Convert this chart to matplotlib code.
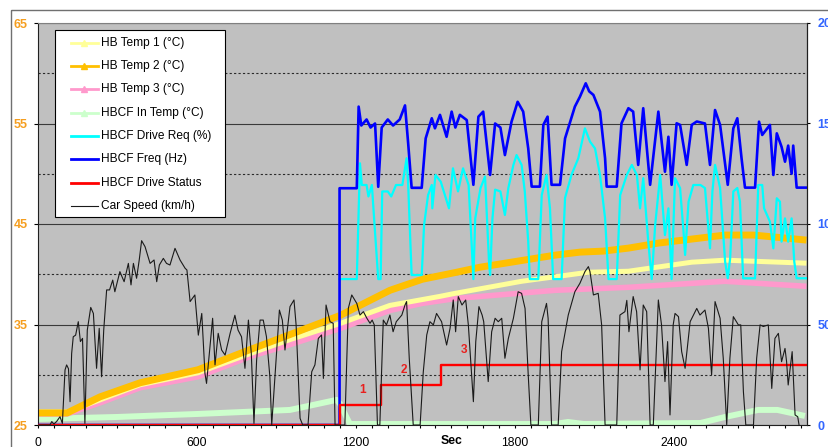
import matplotlib
matplotlib.use("Agg")
import matplotlib.pyplot as plt
from matplotlib.lines import Line2D
from matplotlib.patches import Rectangle
from matplotlib.transforms import Affine2D

plt.rcParams['font.family'] = ['Liberation Sans', 'DejaVu Sans']

# heat bank temperatures, left axis (°C)
temp1_t = [0, 110, 234, 385, 604, 800, 951, 1140, 1328, 1517, 1574, 1825, 2077, 2228, 2467, 2593, 2900]
temp1_v = [26.3, 26.3, 27.5, 29.0, 30.2, 32.1, 33.5, 35.1, 36.9, 37.8, 38.1, 39.3, 40.2, 40.3, 41.2, 41.4, 41.1]

temp2_t = [0, 110, 234, 385, 604, 800, 951, 1140, 1328, 1450, 1580, 1668, 1951, 2045, 2132, 2228, 2341, 2593, 2700, 2900]
temp2_v = [26.2, 26.2, 27.8, 29.2, 30.5, 32.5, 34.0, 35.9, 38.4, 39.5, 40.2, 40.7, 41.9, 42.2, 42.3, 42.6, 43.1, 43.9, 43.9, 43.4]

temp3_t = [0, 110, 234, 385, 604, 800, 951, 1140, 1328, 1450, 1580, 1951, 2228, 2593, 2900]
temp3_v = [26.1, 26.1, 27.2, 28.7, 29.8, 31.8, 33.0, 34.6, 36.4, 37.1, 37.6, 38.4, 38.7, 39.3, 38.8]

inlet_t = [0, 300, 604, 951, 1127, 1140, 1160, 1177, 1950, 2000, 2060, 2500, 2593, 2718, 2790, 2894]
inlet_v = [25.6, 25.8, 26.1, 26.5, 27.5, 27.1, 26.0, 25.1, 25.1, 25.3, 25.1, 25.2, 25.8, 26.5, 26.5, 25.9]

# cooling fan drive request (%), right axis
req_t = [1138, 1203, 1215, 1222, 1240, 1247, 1260, 1270, 1284, 1293, 1299, 1320, 1333, 1351, 1375, 1391,
         1397, 1410, 1448, 1457, 1472, 1486, 1488, 1500, 1520, 1551, 1566, 1585, 1604, 1625, 1636, 1643,
         1650, 1670, 1687, 1702, 1706, 1715, 1725, 1745, 1762, 1775, 1794, 1806, 1825, 1837, 1850, 1856,
         1888, 1901, 1919, 1932, 1944, 1976, 1989, 2013, 2039, 2064, 2083, 2102, 2121, 2140, 2153, 2184,
         2197, 2222, 2241, 2260, 2272, 2284, 2303, 2316, 2329, 2348, 2366, 2379, 2391, 2404, 2423, 2436,
         2442, 2455, 2473, 2500, 2517, 2536, 2545, 2555, 2574, 2593, 2603, 2612, 2624, 2639, 2649, 2661,
         2706, 2718, 2733, 2740, 2762, 2775, 2788, 2800, 2806, 2819, 2831, 2844, 2854, 2863, 2901]
req_v = [72.6, 72.6, 130.2, 119.4, 119.4, 113.7, 119.4, 99.5, 72.6, 72.6, 116.2, 116.2, 113.7, 119.4, 119.4, 132.7,
         119.4, 74.6, 74.6, 99.5, 114.4, 119.4, 107.8, 124.4, 121.0, 107.8, 127.7, 116.2, 127.7, 119.4, 91.2, 72.6,
         102.8, 117.9, 123.6, 81.2, 74.6, 102.8, 117.1, 116.2, 104.5, 117.9, 129.4, 134.3, 129.4, 116.2, 91.2, 72.6,
         72.6, 114.4, 124.4, 107.8, 72.6, 72.6, 113.0, 124.4, 132.7, 147.6, 141.0, 137.6, 124.4, 102.8, 72.6, 72.6,
         114.4, 124.4, 129.4, 124.4, 107.8, 122.8, 91.2, 72.6, 99.5, 124.4, 94.5, 107.8, 72.6, 122.8, 117.9, 96.2,
         84.6, 111.1, 119.4, 119.4, 117.9, 87.9, 116.2, 129.4, 117.9, 81.2, 73.0, 82.9, 116.2, 117.9, 111.1, 73.0,
         73.0, 119.4, 119.4, 107.8, 101.2, 87.9, 112.8, 111.1, 91.2, 102.8, 91.2, 102.8, 81.2, 73.0, 73.0]

# cooling fan frequency (Hz), right axis
freq_t = [0, 1138, 1138, 1203, 1210, 1220, 1240, 1255, 1272, 1284, 1297, 1320, 1340, 1365, 1385, 1397,
          1410, 1448, 1463, 1486, 1498, 1517, 1542, 1561, 1575, 1592, 1618, 1643, 1662, 1680, 1706, 1725,
          1745, 1762, 1787, 1810, 1831, 1850, 1863, 1894, 1907, 1923, 1938, 1970, 1989, 2026, 2045, 2067,
          2080, 2096, 2121, 2140, 2146, 2184, 2202, 2228, 2246, 2265, 2284, 2310, 2341, 2366, 2379, 2391,
          2410, 2423, 2442, 2448, 2467, 2486, 2517, 2536, 2555, 2574, 2603, 2624, 2639, 2655, 2668, 2706,
          2721, 2733, 2762, 2775, 2788, 2806, 2819, 2831, 2844, 2850, 2863, 2901]
freq_v = [0, 0, 117.8, 117.8, 158.4, 149.0, 152.0, 148.0, 150.0, 118.5, 148.0, 152.0, 149.0, 152.0, 159.0, 140.0,
          118.0, 118.0, 142.6, 152.6, 147.6, 154.3, 143.4, 155.9, 148.0, 154.3, 151.7, 119.5, 153.4, 155.9, 124.4, 150.0,
          148.0, 134.3, 150.9, 160.8, 155.9, 137.6, 118.6, 118.6, 149.3, 153.4, 119.5, 119.5, 142.6, 158.4, 163.3, 170.0,
          166.0, 164.2, 155.9, 132.7, 118.6, 118.6, 150.1, 157.6, 155.9, 129.4, 157.6, 119.5, 155.9, 126.0, 143.4, 119.5,
          150.1, 149.3, 134.3, 129.4, 149.3, 151.0, 150.0, 129.4, 156.7, 149.3, 119.5, 147.6, 152.6, 132.7, 118.1, 118.1,
          150.9, 144.3, 149.3, 124.4, 145.1, 138.4, 131.0, 139.0, 125.0, 139.0, 118.1, 118.1]

# fan drive status (x10 on the right axis)
status_t = [0, 1140, 1294, 1521, 2901]
status_v = [0, 10, 20, 30, 30]
status_labels = ['1', '2', '3']

# vehicle speed (km/h), right axis
speed_t = [0, 45, 52, 60, 70, 83, 92, 102, 108, 115, 121, 127, 133, 142, 152, 160, 168, 177, 186, 199,
           209, 221, 231, 240, 248, 259, 270, 282, 290, 309, 325, 341, 351, 360, 372, 382, 391, 404, 423, 438,
           448, 458, 473, 485, 498, 517, 536, 555, 562, 574, 592, 605, 618, 630, 636, 649, 659, 668, 680, 693,
           706, 725, 743, 755, 768, 781, 794, 805, 815, 825, 838, 850, 862, 875, 882, 894, 911, 922, 932, 951,
           966, 974, 989, 999, 1019, 1033, 1045, 1058, 1070, 1077, 1087, 1102, 1114, 1121, 1158, 1171, 1184, 1203, 1215, 1228,
           1241, 1253, 1261, 1269, 1281, 1290, 1303, 1315, 1328, 1340, 1352, 1373, 1385, 1391, 1401, 1416, 1442, 1454, 1467, 1479,
           1492, 1504, 1523, 1542, 1555, 1567, 1576, 1586, 1600, 1614, 1624, 1643, 1652, 1664, 1676, 1682, 1699, 1712, 1725, 1737,
           1750, 1762, 1775, 1794, 1812, 1825, 1838, 1850, 1860, 1888, 1901, 1919, 1925, 1938, 1963, 1976, 2001, 2026, 2045, 2064,
           2077, 2083, 2096, 2114, 2127, 2140, 2184, 2196, 2215, 2222, 2230, 2246, 2259, 2272, 2284, 2297, 2310, 2322, 2341, 2353,
           2366, 2376, 2385, 2397, 2404, 2417, 2429, 2442, 2461, 2486, 2498, 2517, 2530, 2542, 2555, 2574, 2586, 2599, 2611, 2624,
           2643, 2652, 2662, 2671, 2700, 2712, 2725, 2737, 2756, 2769, 2781, 2794, 2806, 2819, 2825, 2831, 2846, 2857, 2867, 2872]
speed_v = [0, 0, 1.7, 0.5, 1.7, 4.1, 0.8, 27.4, 29.9, 28.0, 11.6, 35.6, 43.9, 44.7, 51.4, 41.5, 43.1, 0.8, 47.2, 58.5,
           55.5, 28.2, 48.1, 24.0, 47.2, 67.2, 67.2, 72.1, 66.3, 76.3, 71.3, 80.4, 69.7, 80.4, 73.0, 82.1, 91.7, 88.7, 80.4, 82.1,
           71.3, 79.6, 82.9, 80.4, 79.6, 87.9, 82.1, 78.0, 77.1, 61.4, 64.7, 44.7, 55.5, 25.7, 20.7, 38.9, 53.1, 29.9, 45.6, 37.3,
           34.8, 45.6, 54.6, 47.2, 43.9, 28.2, 52.2, 35.6, 0.8, 32.3, 52.2, 52.2, 44.0, 24.0, 0, 24.0, 57.2, 52.2, 37.3, 58.9,
           62.2, 49.8, 3.3, 0, 0, 26.5, 29.9, 43.1, 44.8, 23.2, 59.7, 51.4, 50.6, 0, 0, 58.0, 64.7, 60.5, 54.7, 56.4,
           53.1, 50.6, 52.2, 49.8, 0, 0, 52.2, 49.8, 54.7, 46.4, 51.4, 54.7, 59.7, 61.4, 33.2, 0, 0, 26.5, 44.8, 51.4,
           49.8, 55.5, 51.4, 39.8, 48.1, 62.2, 46.4, 63.9, 59.7, 62.2, 49.8, 11.6, 41.5, 58.9, 54.7, 51.4, 21.6, 46.4, 53.1, 51.4,
           53.1, 33.2, 43.1, 53.1, 66.3, 65.5, 58.0, 24.9, 0, 0, 51.4, 60.5, 53.1, 0, 0, 36.5, 54.7, 66.3, 70.5, 76.3,
           78.8, 76.3, 64.7, 65.5, 49.8, 0, 0, 54.7, 56.4, 62.0, 46.4, 63.9, 56.4, 27.4, 59.7, 56.4, 0, 0, 62.2, 49.8,
           21.6, 41.5, 5.0, 49.8, 55.5, 53.9, 36.5, 28.2, 51.4, 58.0, 54.7, 57.2, 48.1, 24.9, 61.4, 53.1, 33.2, 0, 33.2, 53.9,
           49.8, 49.8, 16.6, 0, 0, 33.2, 49.8, 49.0, 49.8, 18.2, 43.1, 45.6, 31.5, 38.1, 31.5, 19.9, 36.5, 5.0, 4.1, 0]

labels = ['HB Temp 1 (°C)', 'HB Temp 2 (°C)', 'HB Temp 3 (°C)', 'HBCF In Temp (°C)',
          'HBCF Drive Req (%)', 'HBCF Freq (Hz)', 'HBCF Drive Status', 'Car Speed (km/h)']

ORANGE = '#F59E1F'
BLUE_TXT = '#3366FF'
colors = ['#FFFF99', '#FFC000', '#FF99CC', '#CCFFCC', '#00FFFF', '#0000FF', '#FF0000', '#1A1A1A']

W, H = 829, 447
fig = plt.figure(figsize=(W / 100, H / 100), dpi=100)
ax = fig.add_axes([38 / W, 22 / H, 769 / W, 402 / H])
ax.set_facecolor('#C0C0C0')
ax2 = ax.twinx()

# temperatures: green lowest, gold on top
ax.plot(inlet_t, inlet_v, color=colors[3], lw=4.3, solid_capstyle='butt')
ax.plot(temp3_t, temp3_v, color=colors[2], lw=4.0, solid_capstyle='butt')
ax.plot(temp1_t, temp1_v, color=colors[0], lw=3.6, solid_capstyle='butt')
ax.plot(temp2_t, temp2_v, color=colors[1], lw=5.0, solid_capstyle='butt')

ax2.plot(req_t, req_v, color=colors[4], lw=1.6)
ax2.plot(freq_t, freq_v, color=colors[5], lw=1.9)
ax2.plot(status_t, status_v, color=colors[6], lw=1.7, drawstyle='steps-post')
ax2.plot(speed_t, speed_v, color=colors[7], lw=0.8)

for lab, t_on, level in zip(status_labels, status_t[1:4], status_v[1:4]):
    ax2.text(t_on + 85, level + 7.5, lab, color='#E8201E', fontsize=8.5,
             fontweight='bold', ha='center', va='center')

ax.set_xlim(0, 2902)
ax.set_ylim(25, 65)
ax2.set_ylim(0, 200)

xt = list(range(0, 2901, 60))
ax.set_xticks(xt)
ax.set_xticklabels([str(t) if t % 600 == 0 else '' for t in xt], fontsize=8.7)
ax.tick_params(axis='x', direction='out', length=2.3, width=0.8, pad=6.3)

ax.set_yticks([25, 35, 45, 55, 65])
ax.set_yticks([30, 40, 50, 60], minor=True)
ax.set_yticklabels(['25', '35', '45', '55', '65'], fontsize=9, fontweight='bold', color=ORANGE)
ax.tick_params(axis='y', which='major', direction='out', length=3.2, width=0.8, pad=4.3)
ax.tick_params(axis='y', which='minor', length=0)
ax.set_axisbelow(True)
ax.yaxis.grid(True, which='major', color='#3A3A3A', lw=0.8)
ax.yaxis.grid(True, which='minor', color='#2A2A2A', lw=0.8, ls=(0, (2, 2)))

ax2.set_yticks([0, 50, 100, 150, 200])
ax2.set_yticklabels(['0', '50', '100', '150', '200'], fontsize=9, fontweight='bold', color=BLUE_TXT)
ax2.tick_params(axis='y', direction='out', length=2.2, width=0.8, pad=5.3)

ax.set_xlabel('Sec', fontsize=8.8, fontweight='bold')
ax.xaxis.set_label_coords(0.538, -0.025)

ax.spines['top'].set_color('#808080')
for side in ['left', 'bottom']:
    ax.spines[side].set_color('#202020')
ax2.spines['right'].set_color('#202020')
for side in ['top', 'left', 'bottom']:
    ax2.spines[side].set_visible(False)

# pixel coordinates measured from the top-left corner of the canvas
to_px = Affine2D().scale(1 / W, -1 / H).translate(0, 1) + fig.transFigure

fig.add_artist(Rectangle((11, 10), 900, 500, transform=to_px, fill=False,
                         edgecolor='#707070', lw=1.0))

# legend box
fig.add_artist(Rectangle((55, 30), 170, 187, transform=to_px, facecolor='white',
                         edgecolor='black', lw=0.8))
for i, (lab, col) in enumerate(zip(labels, colors)):
    y = 42.7 + i * 23.33
    lw = 0.8 if i == 7 else 2.0
    fig.add_artist(Line2D([71, 98], [y, y], transform=to_px, color=col, lw=lw))
    if i < 4:
        fig.add_artist(Line2D([84.5], [y], transform=to_px, color=col, marker='^',
                              ms=5, ls=''))
    fig.text(101, y, lab, transform=to_px, va='center', ha='left', fontsize=8.6)

fig.savefig('out.png', dpi=100)
